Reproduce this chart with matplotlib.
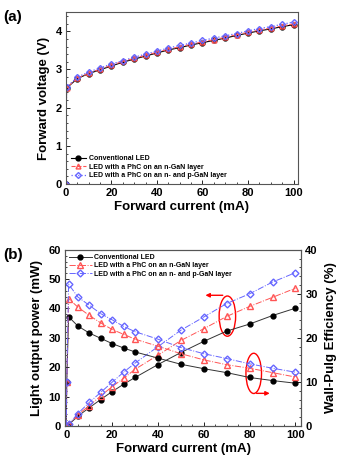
import numpy as np
import matplotlib.pyplot as plt
from matplotlib.patches import Ellipse

plt.rcParams['font.family'] = ['Liberation Sans', 'DejaVu Sans']
plt.rcParams['font.weight'] = 'bold'

labels = ['Conventional LED', 'LED with a PhC on an n-GaN layer',
          'LED with a PhC on an n- and p-GaN layer']

# (a) forward voltage
iv_x = [0, 0.3, 5, 10, 15, 20, 25, 30, 35, 40, 45, 50, 55, 60, 65, 70, 75, 80, 85, 90, 95, 100]
v_conv = [0, 2.51, 2.76, 2.89, 2.99, 3.09, 3.19, 3.27, 3.35, 3.43, 3.51, 3.57, 3.64, 3.70,
          3.76, 3.82, 3.89, 3.95, 4.01, 4.06, 4.12, 4.17]
v_n = [0, 2.52, 2.77, 2.90, 3.01, 3.11, 3.21, 3.29, 3.37, 3.45, 3.53, 3.59, 3.66, 3.72,
       3.78, 3.84, 3.91, 3.97, 4.03, 4.08, 4.14, 4.19]
v_np = [0, 2.53, 2.80, 2.93, 3.04, 3.14, 3.23, 3.32, 3.40, 3.48, 3.56, 3.63, 3.69, 3.76,
        3.82, 3.88, 3.94, 4.01, 4.07, 4.12, 4.18, 4.24]

# (b) light output power
p_x = [0, 1, 5, 10, 15, 20, 25, 30, 40, 50, 60, 70, 80, 90, 100]
p_conv = [0, 0.4, 3.3, 6.2, 9.0, 11.7, 14.2, 16.5, 20.9, 25.0, 28.8, 32.3, 34.7, 37.6, 40.1]
p_n = [0, 0.5, 3.8, 6.9, 10.2, 13.4, 16.2, 19.3, 24.1, 29.1, 33.1, 37.3, 40.7, 43.8, 46.9]
p_np = [0, 0.5, 4.2, 8.0, 11.4, 14.9, 18.3, 21.4, 27.0, 32.6, 37.1, 41.7, 45.0, 49.0, 52.2]

# (b) wall-plug efficiency
e_x = [0, 0.2, 1, 5, 10, 15, 20, 25, 30, 40, 50, 60, 70, 80, 90, 100]
e_conv = [0, 10.0, 24.8, 22.7, 21.1, 19.9, 18.7, 17.7, 16.8, 15.4, 14.0, 13.0, 12.1, 11.0, 10.3, 9.7]
e_n = [0, 10.0, 28.9, 27.0, 25.1, 23.4, 21.9, 20.8, 19.7, 18.1, 16.4, 15.0, 13.9, 13.1, 12.1, 11.1]
e_np = [0, 10.0, 32.2, 29.3, 27.4, 25.5, 24.1, 22.6, 21.4, 19.7, 17.8, 16.4, 15.3, 14.1, 13.1, 12.2]

fig = plt.figure(figsize=(3.43, 4.66), dpi=100)
ax1 = fig.add_axes([0.192, 0.605, 0.677, 0.369])
ax2 = fig.add_axes([0.19, 0.086, 0.688, 0.378])
ax3 = ax2.twinx()

ms = 3.5
ax1.plot(iv_x, v_conv, '-', color='black', marker='o', ms=ms, lw=0.8, label=labels[0])
ax1.plot(iv_x, v_n, '--', color='#ff5555', marker='^', ms=ms, mfc='none', lw=0.8, label=labels[1])
ax1.plot(iv_x, v_np, ':', color='#6666ff', marker='D', ms=ms - 0.5, mfc='none', lw=0.9, label=labels[2])
ax1.set_xlim(0, 102)
ax1.set_ylim(0, 4.5)
ax1.set_xticks([0, 20, 40, 60, 80, 100])
ax1.set_yticks([0, 1, 2, 3, 4])
ax1.set_xlabel('Forward current (mA)', fontsize=9.5, fontweight='bold', labelpad=2)
ax1.set_ylabel('Forward voltage (V)', fontsize=9.5, fontweight='bold', labelpad=4)
ax1.legend(loc='lower left', fontsize=5, frameon=False, handlelength=2.2,
           borderaxespad=0.3, labelspacing=0.2, handletextpad=0.4)
fig.text(0.01, 0.955, '(a)', fontsize=11, fontweight='bold')

ax2.plot(p_x, p_conv, '-', color='#333333', marker='o', ms=3.5, lw=0.7, mfc='black', mec='black', label=labels[0])
ax2.plot(p_x, p_n, '-.', color='#ff5555', marker='^', ms=4, mfc='none', lw=0.7, label=labels[1])
ax2.plot(p_x, p_np, '-.', color='#6666ff', marker='D', ms=3.5, mfc='none', lw=0.7, label=labels[2])
ax3.plot(e_x, e_conv, '-', color='#333333', marker='o', ms=3.5, lw=0.7, mfc='black', mec='black')
ax3.plot(e_x, e_n, '-.', color='#ff5555', marker='^', ms=4, mfc='none', lw=0.7)
ax3.plot(e_x, e_np, '-.', color='#6666ff', marker='D', ms=3.5, mfc='none', lw=0.7)
ax2.set_xlim(-0.5, 102.5)
ax2.set_ylim(0, 60)
ax3.set_ylim(0, 40)
ax2.set_xticks([0, 20, 40, 60, 80, 100])
ax2.set_yticks([0, 10, 20, 30, 40, 50, 60])
ax3.set_yticks([0, 10, 20, 30, 40])
ax2.set_xlabel('Forward current (mA)', fontsize=9.5, fontweight='bold', labelpad=2)
ax2.set_ylabel('Light output power (mW)', fontsize=9.5, fontweight='bold', labelpad=4)
ax3.set_ylabel('Wall-Pulg Efficiency (%)', fontsize=9.5, fontweight='bold', labelpad=5)
ax2.legend(loc='upper left', fontsize=5, frameon=False, handlelength=3.2,
           borderaxespad=0.2, labelspacing=0.2, handletextpad=0.4)
fig.text(0.01, 0.445, '(b)', fontsize=11, fontweight='bold')

# red annotations
ax2.add_patch(Ellipse((70.3, 37.4), 7.2, 13.7, fill=False, ec='red', lw=1.0))
ax2.annotate('', xy=(59.5, 44.5), xytext=(69.5, 44.5),
             arrowprops=dict(arrowstyle='-|>', color='red', lw=1.0, mutation_scale=6))
ax2.add_patch(Ellipse((81.8, 17.9), 6.8, 13.7, fill=False, ec='red', lw=1.0))
ax2.annotate('', xy=(90, 11.1), xytext=(81.8, 11.1),
             arrowprops=dict(arrowstyle='-|>', color='red', lw=1.0, mutation_scale=6))

for ax in (ax1, ax2, ax3):
    ax.tick_params(direction='in', labelsize=8, length=3, width=0.6, pad=3)
    for lab in ax.get_xticklabels() + ax.get_yticklabels():
        lab.set_fontweight('bold')
    for s in ax.spines.values():
        s.set_color('#555555')
        s.set_linewidth(0.8)
for ax in (ax1, ax2, ax3):
    ax.minorticks_on()
    ax.tick_params(which='minor', direction='in', length=1.5, width=0.5)

fig.savefig('out.png', dpi=100)
